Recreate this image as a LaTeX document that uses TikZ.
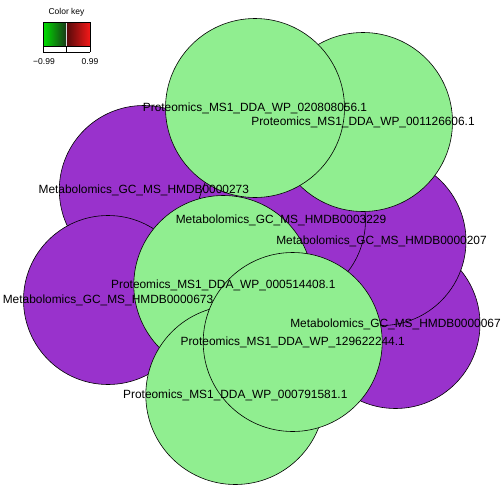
\documentclass[tikz,border=0pt]{standalone}
\usepackage{fontspec}
\setmainfont{Liberation Sans}
\usetikzlibrary{calc}

\definecolor{metabcol}{HTML}{9932CC}
\definecolor{protcol}{HTML}{90EE90}
\definecolor{keygreen}{RGB}{0,225,0}
\definecolor{keydkgreen}{RGB}{25,55,25}
\definecolor{keydkred}{RGB}{85,10,10}
\definecolor{keyred}{RGB}{245,25,25}

\begin{document}
\begin{tikzpicture}[x=1pt, y=-1pt,
    metab/.style={circle, draw=black, fill=metabcol, line width=0.6pt, minimum size=169pt, inner sep=0pt},
    prot/.style={circle, draw=black, fill=protcol, line width=0.6pt, minimum size=179pt, inner sep=0pt},
    lbl/.style={font=\fontsize{11.9}{13}\selectfont, inner sep=0pt},
    keytxt/.style={font=\fontsize{8.5}{10}\selectfont, inner sep=0pt}]

    \useasboundingbox (0,0) rectangle (504,504);

    % Metabolite circles
    \node[metab] (m273) at (143.8,190) {};
    \node[metab] (m673) at (108,300) {};
    \node[metab] (m067) at (395.5,324) {};
    \node[metab] (m207) at (381.5,241) {};
    \node[metab] (m3229) at (281,220) {};

    % Protein circles
    \node[prot] (p126) at (363,122) {};
    \node[prot] (p808) at (255,108) {};
    \node[prot] (p514) at (223.3,285) {};
    \node[prot] (p791) at (235.3,395) {};
    \node[prot] (p129) at (292.7,342) {};

    % Labels on top
    \node[lbl] (t273) at (m273) {Metabolomics\_GC\_MS\_HMDB0000273};
    \node[lbl] (t673) at (m673) {Metabolomics\_GC\_MS\_HMDB0000673};
    \node[lbl] (t067) at (m067) {Metabolomics\_GC\_MS\_HMDB0000067};
    \node[lbl] (t207) at (m207) {Metabolomics\_GC\_MS\_HMDB0000207};
    \node[lbl] (t3229) at (m3229) {Metabolomics\_GC\_MS\_HMDB0003229};
    \node[lbl] (t126) at (p126) {Proteomics\_MS1\_DDA\_WP\_001126606.1};
    \node[lbl] (t808) at (p808) {Proteomics\_MS1\_DDA\_WP\_020808056.1};
    \node[lbl] (t514) at (p514) {Proteomics\_MS1\_DDA\_WP\_000514408.1};
    \node[lbl] (t791) at (p791) {Proteomics\_MS1\_DDA\_WP\_000791581.1};
    \node[lbl] (t129) at (p129) {Proteomics\_MS1\_DDA\_WP\_129622244.1};

    % Colour key
    \node[keytxt] (keytitle) at (66.5,12) {Color key};
    \shade[left color=keygreen, right color=keydkgreen] (43,22) rectangle (66.5,46);
    \shade[left color=keydkred, right color=keyred] (66.5,22) rectangle (90,46);
    \draw[white!85!black, line width=0.6pt] (66.5,22) -- (66.5,46);
    \draw[line width=0.5pt] (43,22) rectangle (90,46);
    \draw[line width=0.5pt] (43,52) -- (90,52);
    \foreach \x in {43,66.5,90}
        \draw[line width=0.5pt] (\x,47) -- (\x,52);
    \node[keytxt] (keylo) at (44,62) {\symbol{"2212}0.99};
    \node[keytxt] (keyhi) at (90,62) {0.99};

\end{tikzpicture}
\end{document}
